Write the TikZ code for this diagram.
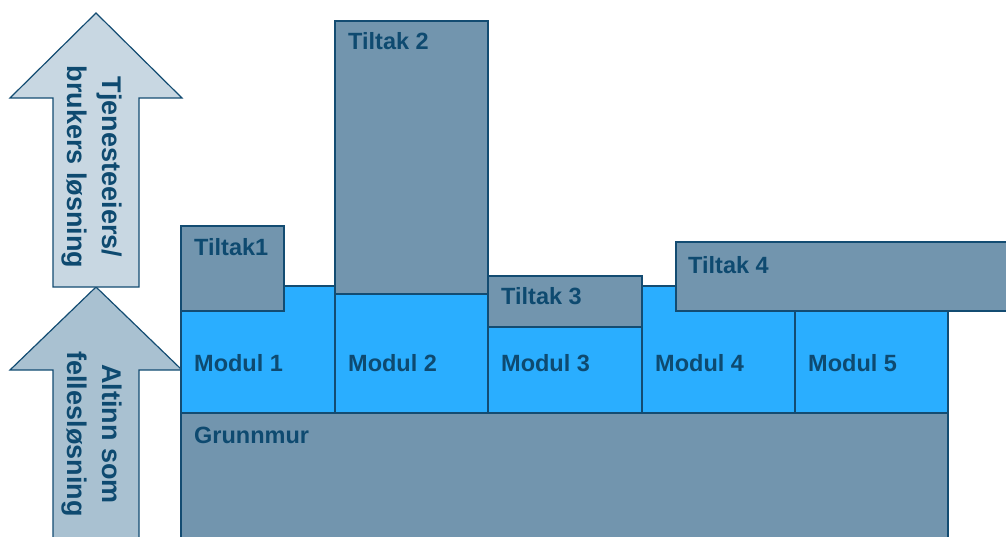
\documentclass[tikz,border=0pt]{standalone}
\usepackage{fontspec}
\setmainfont{Liberation Sans}
\definecolor{edge}{HTML}{134C72}
\definecolor{txt}{HTML}{0E4A70}
\definecolor{tiltakfill}{HTML}{7295AE}
\definecolor{modulfill}{HTML}{2AAEFF}
\definecolor{arrowtop}{HTML}{C8D7E2}
\definecolor{arrowlow}{HTML}{A9C1D1}
\tikzset{
  blockbox/.style={draw=edge, line width=1.5pt, line join=miter},
  tiltakbox/.style={blockbox, fill=tiltakfill},
  modulbox/.style={blockbox, fill=modulfill},
  arrowshape/.style={draw=edge, line width=1.2pt, line join=miter},
  lbl/.style={text=txt, inner sep=0pt, anchor=base west,
    font=\fontsize{23.5}{28}\selectfont\bfseries},
  arrowtext/.style={text=txt, inner sep=0pt, rotate=-90, align=center,
    font=\fontsize{27}{34.5}\selectfont\bfseries}
}
\begin{document}
\begin{tikzpicture}[x=1pt, y=-1pt]
\useasboundingbox (0,0) rectangle (1006,537);

% upward arrows on the left
\draw[arrowshape, fill=arrowlow]
  (96,287) -- (182,370) -- (139,370) -- (139,550) -- (53,550)
  -- (53,370) -- (10,370) -- cycle;
\draw[arrowshape, fill=arrowtop]
  (96,13) -- (182,98) -- (139,98) -- (139,287) -- (53,287)
  -- (53,98) -- (10,98) -- cycle;
\node[arrowtext] (upper) at (92,167) {Tjenesteeiers/\\brukers løsning};
\node[arrowtext] (lower) at (92,434) {Altinn som\\fellesløsning};

% foundation
\draw[tiltakbox] (181,413) rectangle (948,550);
\node[lbl] (grunnmur) at (194,443) {Grunnmur};

% module row
\draw[modulbox] (181,286) rectangle (335,413);
\draw[modulbox] (335,286) rectangle (488,413);
\draw[modulbox] (488,286) rectangle (642,413);
\draw[modulbox] (642,286) rectangle (795,413);
\draw[modulbox] (795,286) rectangle (948,413);
\node[lbl] (m1) at (194,371) {Modul 1};
\node[lbl] (m2) at (348,371) {Modul 2};
\node[lbl] (m3) at (501,371) {Modul 3};
\node[lbl] (m4) at (655,371) {Modul 4};
\node[lbl] (m5) at (808,371) {Modul 5};

% measures on top of the modules
\draw[tiltakbox] (181,226) rectangle (284,311);
\draw[tiltakbox] (335,21) rectangle (488,294);
\draw[tiltakbox] (488,276) rectangle (642,327);
\draw[tiltakbox] (676,242) rectangle (1012,311);
\node[lbl] (t1) at (194,255) {Tiltak1};
\node[lbl] (t2) at (348,50) {Tiltak 2};
\node[lbl] (t3) at (501,305) {Tiltak 3};
\node[lbl] (t4) at (688,273) {Tiltak 4};
\end{tikzpicture}
\end{document}
